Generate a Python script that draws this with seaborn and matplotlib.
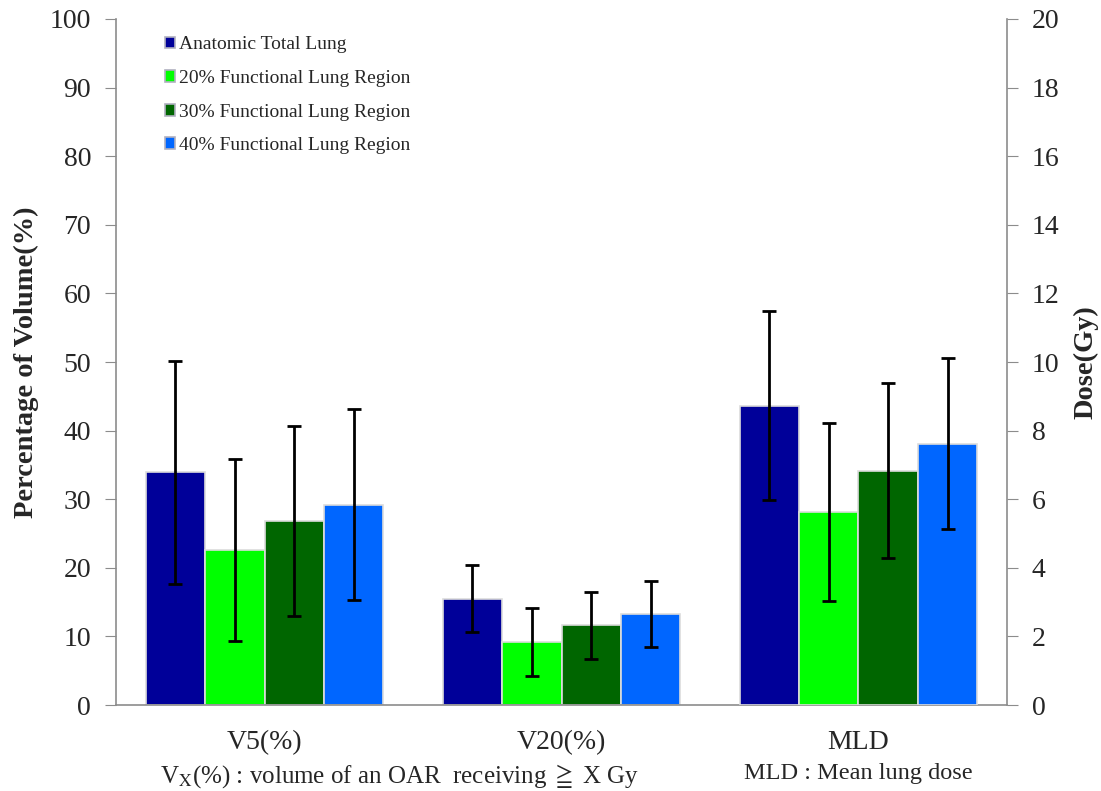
import numpy as np
import pandas as pd
import matplotlib.pyplot as plt
from matplotlib.container import BarContainer
import seaborn as sns

# categorias e grupos
categories = ['V5(%)', 'V20(%)', 'MLD']
groups = ['Anatomic Total Lung', '20% Functional Lung Region',
          '30% Functional Lung Region', '40% Functional Lung Region']
colors = ['#000099', '#00FF00', '#006600', '#0066FF']

# valores (eixo esquerdo: %, eixo direito: Gy)
v5_mean = [33.9, 22.6, 26.8, 29.2]
v5_sd = [16.2, 13.3, 13.8, 13.9]
v20_mean = [15.5, 9.2, 11.6, 13.3]
v20_sd = [4.9, 4.9, 4.85, 4.8]
mld_mean = [8.73, 5.62, 6.83, 7.62]
mld_sd = [2.75, 2.6, 2.55, 2.5]

df_left = pd.DataFrame({
    'cat': ['V5(%)'] * 4 + ['V20(%)'] * 4,
    'group': groups * 2,
    'val': v5_mean + v20_mean,
    'sd': v5_sd + v20_sd,
})
df_right = pd.DataFrame({
    'cat': ['MLD'] * 4,
    'group': groups,
    'val': mld_mean,
    'sd': mld_sd,
})

sns.set_style('white')
plt.rcParams['font.family'] = ['Liberation Serif', 'DejaVu Sans']
plt.rcParams['mathtext.fontset'] = 'stix'

fig, ax = plt.subplots(figsize=(11.01, 7.91), dpi=100)
plt.subplots_adjust(left=0.1054, right=0.9146, bottom=0.1087, top=0.976)
ax2 = ax.twinx()

bar_kw = dict(x='cat', y='val', hue='group', order=categories, hue_order=groups,
              palette=colors, errorbar=None, edgecolor='#dcdcdc', linewidth=1.2,
              width=0.8, saturation=1)
sns.barplot(data=df_left, ax=ax, **bar_kw)
sns.barplot(data=df_right, ax=ax2, **bar_kw)


def add_errors(axis, df):
    # barras de erro nos centros das barras desenhadas
    conts = [c for c in axis.containers if isinstance(c, BarContainer)]
    for gi, cont in enumerate(conts):
        for patch in cont.patches:
            h = patch.get_height()
            if np.isnan(h) or h == 0:
                continue
            xc = patch.get_x() + patch.get_width() / 2
            ci = int(round(xc))
            row = df[(df['cat'] == categories[ci]) & (df['group'] == groups[gi])]
            if len(row) == 0:
                continue
            axis.errorbar(xc, h, yerr=row['sd'].iloc[0], fmt='none', ecolor='black',
                          elinewidth=2, capsize=5, capthick=2, zorder=5)


add_errors(ax, df_left)
add_errors(ax2, df_right)

# eixos
ax.set_xlim(-0.5, 2.5)
ax.set_ylim(0, 100)
ax2.set_ylim(0, 20)
ax.set_yticks(np.arange(0, 101, 10))
ax2.set_yticks(np.arange(0, 21, 2))
ax.set_xlabel('')
ax2.set_xlabel('')
ax.set_ylabel('Percentage of Volume(%)', fontsize=20.5, fontweight='bold', labelpad=8)
ax2.set_ylabel('Dose(Gy)', fontsize=20.5, fontweight='bold', labelpad=10)

for a in (ax, ax2):
    a.spines['top'].set_visible(False)
    for s in a.spines.values():
        s.set_color('#8c8c8c')
        s.set_linewidth(1.2)
ax.spines['right'].set_visible(False)
ax2.spines['left'].set_visible(False)
ax2.spines['bottom'].set_visible(False)

ax.tick_params(axis='y', direction='out', length=8, color='#8c8c8c', labelsize=20, pad=10)
ax2.tick_params(axis='y', direction='out', length=8, color='#8c8c8c', labelsize=20, pad=10)
ax.tick_params(axis='x', which='major', length=0, labelsize=20, pad=18)
ax.set_xticks([0.5, 1.5], minor=True)
ax.tick_params(axis='x', which='minor', direction='out', length=8, color='#8c8c8c')

# legenda
if ax2.get_legend() is not None:
    ax2.get_legend().remove()
handles, labels = ax.get_legend_handles_labels()
for hd in handles:
    hd.set_edgecolor('#b0b0c0')
ax.legend(handles, labels, loc='upper left', bbox_to_anchor=(0.035, 1.0), frameon=False,
          fontsize=14, handlelength=0.55, handleheight=0.55, handletextpad=0.2,
          labelspacing=0.85)

# notas inferiores
ax.text(0.455, -0.104, 'V$_{\\rm X}$(%) : volume of an OAR  receiving $\\geqq$ X Gy',
        transform=ax.get_xaxis_transform(), ha='center', va='center', fontsize=18)
ax.text(2.0, -0.100, 'MLD : Mean lung dose', transform=ax.get_xaxis_transform(),
        ha='center', va='center', fontsize=17.5)

plt.savefig('out.png', dpi=100)
